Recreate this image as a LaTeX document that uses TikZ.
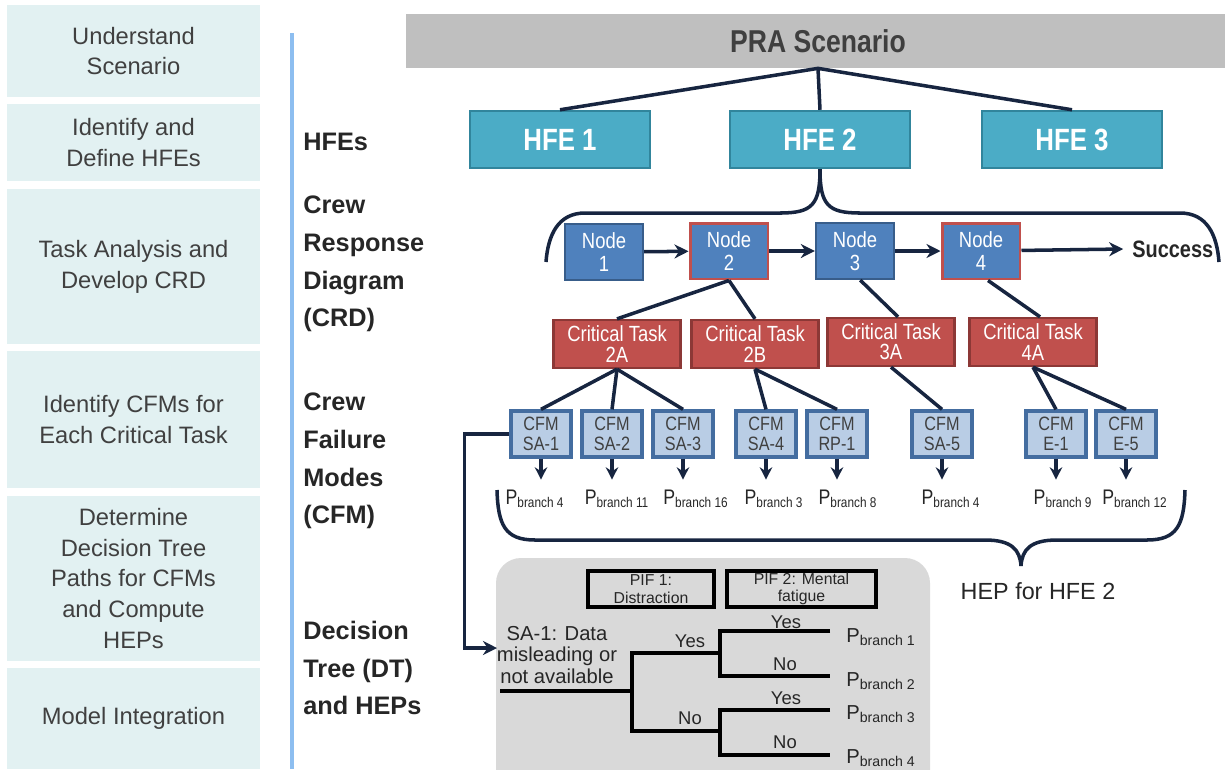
\documentclass[tikz,border=0pt]{standalone}
\usepackage{fontspec}
\setmainfont{Liberation Sans}
\newfontfamily\narrowfont[FakeStretch=0.84]{Liberation Sans}
\usetikzlibrary{arrows.meta}

\definecolor{stepfill}{RGB}{226,241,242}
\definecolor{steptext}{RGB}{64,64,64}
\definecolor{labeltext}{RGB}{38,38,38}
\definecolor{sideline}{RGB}{141,190,240}
\definecolor{prafill}{RGB}{191,191,191}
\definecolor{pratext}{RGB}{63,63,63}
\definecolor{hfefill}{RGB}{75,172,198}
\definecolor{hfeedge}{RGB}{49,133,156}
\definecolor{crdfill}{RGB}{79,129,189}
\definecolor{crdedge}{RGB}{56,93,138}
\definecolor{taskfill}{RGB}{192,80,77}
\definecolor{taskedge}{RGB}{140,56,54}
\definecolor{cfmfill}{RGB}{185,205,229}
\definecolor{cfmedge}{RGB}{68,109,160}
\definecolor{navy}{RGB}{23,37,64}
\definecolor{treefill}{RGB}{217,217,217}

\begin{document}
\begin{tikzpicture}[x=0.02cm,y=-0.02cm,
  stepbox/.style={fill=stepfill,inner sep=0pt,minimum width=5.06cm,align=center,text=steptext,font=\fontsize{13.5}{17.6}\selectfont},
  rowlabel/.style={anchor=west,align=left,inner sep=0pt,text=labeltext,font=\fontsize{14.4}{21.5}\selectfont\bfseries},
  hfebox/.style={fill=hfefill,draw=hfeedge,line width=1.4pt,minimum width=3.6cm,minimum height=1.14cm,text=white,font=\fontsize{17.5}{19}\selectfont\narrowfont\bfseries},
  crdnode/.style={fill=crdfill,draw=crdedge,line width=1.3pt,minimum width=1.56cm,minimum height=1.12cm,inner sep=0pt,align=center,text=white,font=\fontsize{12.5}{13}\selectfont\narrowfont},
  crdred/.style={crdnode,draw=taskfill,line width=1.7pt},
  taskbox/.style={fill=taskfill,draw=taskedge,line width=1.3pt,minimum width=2.54cm,minimum height=0.96cm,inner sep=0pt,align=center,text=white,font=\fontsize{12.5}{11.5}\selectfont\narrowfont},
  cfmbox/.style={fill=cfmfill,draw=cfmedge,line width=1.9pt,minimum width=1.2cm,minimum height=0.92cm,inner sep=0pt,align=center,text=steptext,font=\fontsize{11}{11.5}\selectfont\narrowfont},
  pbranch/.style={inner sep=0pt,text=labeltext,font=\fontsize{12}{13}\selectfont\narrowfont},
  conn/.style={draw=navy,line width=2pt},
  tip/.style={-{Stealth[length=8pt,width=8pt]}},
  smallarrow/.style={conn,-{Stealth[length=7pt,width=7pt]}},
  pifbox/.style={draw=black,line width=1.8pt,minimum width=2.52cm,minimum height=0.72cm,inner sep=0pt,align=center,text=labeltext,font=\fontsize{9}{10}\selectfont},
  treeline/.style={draw=black,line width=2.6pt},
  treetext/.style={inner sep=0pt,text=labeltext,font=\fontsize{10.5}{12.5}\selectfont}]
\useasboundingbox (0,0) rectangle (1225,769);

% steps of the method
\node[stepbox,minimum height=1.84cm] (understand) at (133.5,51) {Understand\\Scenario};
\node[stepbox,minimum height=1.54cm] (identify) at (133.5,142.5) {Identify and\\Define HFEs};
\node[stepbox,minimum height=3.1cm] (taskan) at (133.5,266.5) {Task Analysis and\\Develop CRD};
\node[stepbox,minimum height=2.74cm] (cfms) at (133.5,419.5) {Identify CFMs for\\Each Critical Task};
\node[stepbox,minimum height=3.3cm] (paths) at (133.5,578.5) {Determine\\Decision Tree\\Paths for CFMs\\and Compute\\HEPs};
\node[stepbox,minimum height=2.02cm] (integr) at (133.5,718.5) {Model Integration};
\draw[sideline,line width=1.8pt] (292,33) -- (292,769);

% row labels
\node[rowlabel] (lhfe) at (303,142) {HFEs};
\node[rowlabel] (lcrd) at (303,264) {Crew\\Response\\Diagram\\(CRD)};
\node[rowlabel] (lcfm) at (303,461) {Crew\\Failure\\Modes\\(CFM)};
\node[rowlabel] (ldt) at (303,668) {Decision\\Tree (DT)\\and HEPs};

% scenario and HFEs
\node[fill=prafill,minimum width=16.48cm,minimum height=1.08cm,text=pratext,font=\fontsize{18}{20}\selectfont\narrowfont\bfseries] (pra) at (818,41) {PRA Scenario};
\node[hfebox] (hfe1) at (560,139.5) {HFE 1};
\node[hfebox] (hfe2) at (820,139.5) {HFE 2};
\node[hfebox] (hfe3) at (1072,139.5) {HFE 3};
\draw[conn] (hfe1.north) -- (pra.south) -- (hfe3.north);
\draw[conn] (pra.south) -- (hfe2.north);

% crew response diagram
\node[crdnode] (node1) at (604,252) {Node\\1};
\node[crdred] (node2) at (729,251) {Node\\2};
\node[crdnode] (node3) at (855,251) {Node\\3};
\node[crdred] (node4) at (981,251) {Node\\4};
\node[anchor=west,inner sep=0pt,text=labeltext,font=\fontsize{13.5}{15}\selectfont\narrowfont\bfseries] (success) at (1132,249) {Success};
\draw[conn,tip] (node1) -- (node2);
\draw[conn,tip] (node2) -- (node3);
\draw[conn,tip] (node3) -- (node4);
\draw[conn,tip] (node4) -- ([xshift=-5pt]success.west);
\coordinate (bl) at (546,262);
\coordinate (br) at (1219,262);
\draw[conn] (hfe2.south) .. controls (820,205) and (812,213) .. (780,213) -- (585,213) .. controls (558,213) and (548,235) .. (bl);
\draw[conn] (hfe2.south) .. controls (820,205) and (828,213) .. (860,213) -- (1180,213) .. controls (1207,213) and (1217,235) .. (br);

% critical tasks
\node[taskbox] (ct2a) at (617,344) {Critical Task\\2A};
\node[taskbox] (ct2b) at (755,344) {Critical Task\\2B};
\node[taskbox] (ct3a) at (891,342) {Critical Task\\3A};
\node[taskbox] (ct4a) at (1033,342) {Critical Task\\4A};
\draw[conn] (node2.south) -- (ct2a.north);
\draw[conn] (node2.south) -- (ct2b.north);
\draw[conn] ([xshift=3pt]node3.south) -- ([xshift=4pt]ct3a.north);
\draw[conn] ([xshift=4pt]node4.south) -- ([xshift=4pt]ct4a.north);

% crew failure modes
\node[cfmbox] (sa1) at (541,434) {CFM\\SA-1};
\node[cfmbox] (sa2) at (612,434) {CFM\\SA-2};
\node[cfmbox] (sa3) at (683,434) {CFM\\SA-3};
\node[cfmbox] (sa4) at (766,434) {CFM\\SA-4};
\node[cfmbox] (rp1) at (837,434) {CFM\\RP-1};
\node[cfmbox] (sa5) at (942,434) {CFM\\SA-5};
\node[cfmbox] (e1) at (1056,434) {CFM\\E-1};
\node[cfmbox] (e5) at (1126,434) {CFM\\E-5};
\foreach \c in {sa1,sa2,sa3} \draw[conn] (ct2a.south) -- (\c.north);
\foreach \c in {sa4,rp1} \draw[conn] (ct2b.south) -- (\c.north);
\draw[conn] (ct3a.south) -- (sa5.north);
\foreach \c in {e1,e5} \draw[conn] (ct4a.south) -- (\c.north);
\foreach \c in {sa1,sa2,sa3,sa4,rp1,sa5,e1,e5} \draw[smallarrow] (\c.south) -- ++(0,21);

\node[pbranch] (pb1) at (535,499) {P\textsubscript{branch 4}};
\node[pbranch] (pb2) at (617,499) {P\textsubscript{branch 11}};
\node[pbranch] (pb3) at (696,499) {P\textsubscript{branch 16}};
\node[pbranch] (pb4) at (774,499) {P\textsubscript{branch 3}};
\node[pbranch] (pb5) at (848,499) {P\textsubscript{branch 8}};
\node[pbranch] (pb6) at (951,499) {P\textsubscript{branch 4}};
\node[pbranch] (pb7) at (1063,499) {P\textsubscript{branch 9}};
\node[pbranch] (pb8) at (1135,499) {P\textsubscript{branch 12}};

% brace under the CFMs
\draw[conn] (497,490) .. controls (498,525) and (505,540) .. (535,540) -- (985,540) .. controls (1012,540) and (1020,550) .. (1021,566);
\draw[conn] (1185,490) .. controls (1184,525) and (1177,540) .. (1147,540) -- (1057,540) .. controls (1030,540) and (1022,550) .. (1021,566);
\node[inner sep=0pt,text=labeltext,font=\fontsize{13.3}{15}\selectfont] (hep) at (1038,591) {HEP for HFE 2};

% decision tree
\fill[treefill,rounded corners=0.5cm] (496,558) rectangle (930,800);
\node[pifbox] (pif1) at (651,589) {PIF 1:\\Distraction};
\node[pifbox,minimum width=2.98cm] (pif2) at (801.5,589) {PIF 2: Mental\\fatigue};
\coordinate (dtin) at (497,648);
\draw[conn,tip] (sa1.west) -- ++(-45,0) |- (dtin);
\node[treetext,align=center,font=\fontsize{11.5}{12.5}\selectfont] (sa1q) at (557,655) {SA-1: Data\\misleading or\\not available};
\draw[treeline] (500,691) -- (632,691);
\draw[treeline] (720,653) -| (632,731) -- (720,731);
\draw[treeline] (830,631) -| (720,676) -- (830,676);
\draw[treeline] (830,710) -| (720,755) -- (830,755);
\node[treetext] (y1) at (690,641) {Yes};
\node[treetext] (n1) at (690,718) {No};
\node[treetext] (y2) at (786,622) {Yes};
\node[treetext] (n2) at (785,664) {No};
\node[treetext] (y3) at (786,698) {Yes};
\node[treetext] (n3) at (785,742) {No};
\node[pbranch,anchor=west,font=\fontsize{11.5}{12}\selectfont] (pt1) at (846,637) {P\textsubscript{branch 1}};
\node[pbranch,anchor=west,font=\fontsize{11.5}{12}\selectfont] (pt2) at (846,681) {P\textsubscript{branch 2}};
\node[pbranch,anchor=west,font=\fontsize{11.5}{12}\selectfont] (pt3) at (846,714) {P\textsubscript{branch 3}};
\node[pbranch,anchor=west,font=\fontsize{11.5}{12}\selectfont] (pt4) at (846,758) {P\textsubscript{branch 4}};
\end{tikzpicture}
\end{document}
